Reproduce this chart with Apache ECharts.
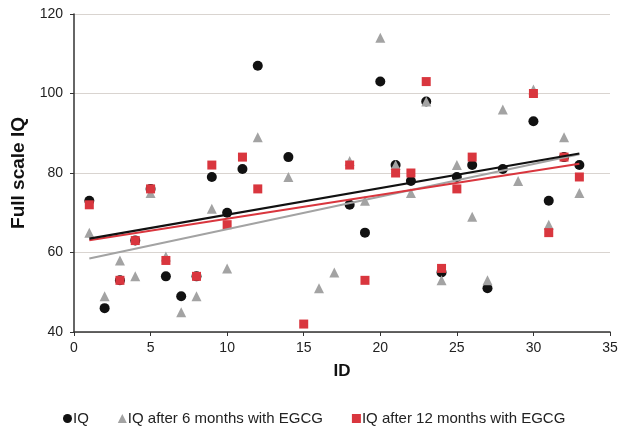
<!DOCTYPE html>
<html>
<head>
<meta charset="utf-8">
<script src="https://cdn.jsdelivr.net/npm/echarts@6/dist/echarts.min.js"></script>
<style>
  html, body { margin: 0; padding: 0; background: #fff; }
  #chart { width: 621px; height: 428px; }
</style>
</head>
<body>
<div id="chart"></div>
<script>
// Patient IDs 1..33
const ids = [1,2,3,4,5,6,7,8,9,10,11,12,13,14,15,16,17,18,19,20,21,22,23,24,25,26,27,28,29,30,31,32,33];

// Full scale IQ at baseline (null = not measured)
const iqBase = [73,46,53,63,76,54,49,54,79,70,81,107,null,84,null,null,null,72,65,103,82,78,98,55,79,82,51,81,null,93,73,84,82];
// IQ after 6 months with EGCG
const iq6m = [65,49,58,54,75,59,45,49,71,56,null,89,null,79,null,51,55,83,73,114,82,75,98,53,82,69,53,96,78,101,67,89,75];
// IQ after 12 months with EGCG
const iq12m = [72,null,53,63,76,58,null,54,82,67,84,76,null,null,42,null,null,82,53,null,80,80,103,56,76,84,null,null,null,100,65,84,79];

// Linear trend lines: y at the first and last ID
const trendX = [1, 33];
const trendBase = [63.5, 84.9];
const trend6m = [58.5, 84.7];
const trend12m = [63.1, 82.3];

const seriesNames = ['IQ', 'IQ after 6 months with EGCG', 'IQ after 12 months with EGCG'];
const colors = ['#111111', '#a3a3a3', '#d9363e'];

const pairs = vals => ids.map((id, i) => [id, vals[i]]).filter(p => p[1] !== null);
const line = vals => trendX.map((x, i) => [x, vals[i]]);

const font = 'Liberation Sans, Arial, sans-serif';

const chart = echarts.init(document.getElementById('chart'));
chart.setOption({
  animation: false,
  backgroundColor: '#ffffff',
  grid: { left: 74, right: 11, top: 14, bottom: 96 },
  xAxis: {
    type: 'value', min: 0, max: 35, interval: 5,
    name: 'ID', nameLocation: 'middle', nameGap: 31,
    nameTextStyle: { fontFamily: font, fontWeight: 'bold', fontSize: 17, color: '#111' },
    axisLine: { lineStyle: { color: '#333', width: 1.5 } },
    axisTick: { show: true, length: 4, lineStyle: { color: '#333' } },
    axisLabel: { fontFamily: font, fontSize: 14, color: '#222', margin: 9 },
    splitLine: { show: false }
  },
  yAxis: {
    type: 'value', min: 40, max: 120, interval: 20,
    name: 'Full scale IQ', nameLocation: 'middle', nameGap: 41,
    nameTextStyle: { fontFamily: font, fontWeight: 'bold', fontSize: 19, color: '#111' },
    axisLine: { show: true, lineStyle: { color: '#333', width: 1.5 } },
    axisTick: { show: true, length: 4, lineStyle: { color: '#333' } },
    axisLabel: { fontFamily: font, fontSize: 14, color: '#222', margin: 11 },
    splitLine: { show: true, lineStyle: { color: '#d9d4d0', width: 1 } }
  },
  legend: {
    data: [
      { name: seriesNames[0], icon: 'circle' },
      { name: seriesNames[1], icon: 'triangle' },
      { name: seriesNames[2], icon: 'rect' }
    ],
    top: 406, left: 58,
    itemWidth: 9, itemHeight: 9, itemGap: 29,
    textStyle: { fontFamily: font, fontSize: 15, color: '#222', padding: [0, 0, 0, -4] }
  },
  series: [
    {
      name: seriesNames[0], type: 'scatter', data: pairs(iqBase),
      symbol: 'circle', symbolSize: 10, itemStyle: { color: colors[0], opacity: 1 }, z: 2
    },
    {
      name: seriesNames[1], type: 'scatter', data: pairs(iq6m),
      symbol: 'triangle', symbolSize: 10, itemStyle: { color: colors[1], opacity: 1 }, z: 3
    },
    {
      name: seriesNames[2], type: 'scatter', data: pairs(iq12m),
      symbol: 'rect', symbolSize: 9, itemStyle: { color: colors[2], opacity: 1 }, z: 4
    },
    {
      name: 'trend-6m', type: 'line', data: line(trend6m), symbol: 'none',
      lineStyle: { color: colors[1], width: 2 }, z: 5, silent: true
    },
    {
      name: 'trend-12m', type: 'line', data: line(trend12m), symbol: 'none',
      lineStyle: { color: colors[2], width: 2 }, z: 6, silent: true
    },
    {
      name: 'trend-base', type: 'line', data: line(trendBase), symbol: 'none',
      lineStyle: { color: colors[0], width: 2.2 }, z: 7, silent: true
    }
  ]
});
</script>
</body>
</html>
